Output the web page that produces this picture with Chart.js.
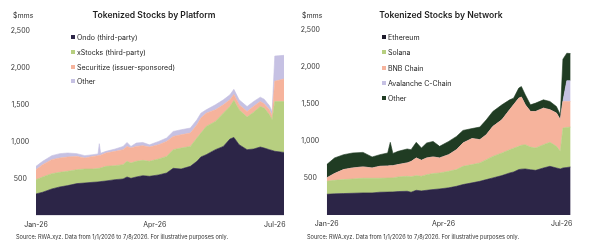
<!DOCTYPE html>
<html><head><meta charset="utf-8">
<script src="https://cdn.jsdelivr.net/npm/chart.js@4.4.1/dist/chart.umd.min.js"></script>
<style>
html,body{margin:0;padding:0;background:#fff;width:600px;height:251px;overflow:hidden;font-family:Inter,"Noto Sans",sans-serif;}
.panel{position:absolute;top:0;width:300px;height:251px;}
.panel canvas{position:absolute;left:0;top:0;}
.txt{position:absolute;white-space:nowrap;line-height:1;}
.unit{font-size:7px;color:#333;}
.title{font-size:8.6px;font-weight:600;color:#1e1e1e;text-align:center;width:200px;}
.leg{font-size:7px;color:#222;}
.sw{position:absolute;width:4px;height:4px;}
.source{font-size:5.6px;color:#333;}
</style></head>
<body>
<div class="panel" id="p1" style="left:0"><canvas id="c1" width="300" height="251"></canvas></div>
<div class="panel" id="p2" style="left:300px"><canvas id="c2" width="300" height="251"></canvas></div>
<script>
// ---- data (days since 1 Jan 2026) ----
const platformDays = [0,5,12,18,24,31,37,43,47,48,49,53,60,66,69,72,76,81,86,93,99,104,110,117,122,125,129,136,142,147,150,154,160,165,170,173,177,179,181,188];
const ondo          = [293,315,360,387,405,432,441,450,455,458,460,468,486,495,522,504,522,540,531,550,576,639,630,666,734,793,824,892,936,1036,1058,959,892,901,928,914,892,882,870,855];
const xStocks       = [193,207,207,198,194,189,189,180,182,182,183,198,189,194,212,207,212,207,203,216,225,253,284,270,316,324,383,382,451,441,502,473,441,499,549,541,472,415,674,689];
const securitize    = [135,167,190,194,194,180,149,171,173,175,175,181,194,203,202,203,202,199,194,193,203,179,180,181,179,203,180,158,113,90,80,68,76,80,68,58,68,54,276,306];
const platformOther = [45,45,54,59,54,37,32,23,25,158,25,22,32,44,54,22,46,44,30,45,46,68,68,68,68,67,45,68,67,68,70,67,68,65,58,63,54,58,340,320];

const networkDays  = [0,6,13,20,28,35,41,47,49,51,55,62,65,69,73,77,82,87,94,100,105,112,118,123,128,135,141,144,148,150,153,157,161,167,172,177,180,182,185,188];
const ethereum     = [280,285,289,293,298,298,307,309,311,311,316,320,307,333,325,333,343,352,366,387,410,433,454,477,500,531,567,580,612,618,621,610,602,634,656,634,621,634,640,648];
const solana       = [174,183,188,193,197,197,188,189,189,189,197,202,208,198,197,211,215,215,223,225,246,246,248,269,290,305,313,320,313,322,327,305,301,314,323,291,237,538,540,537];
const bnbChain     = [46,90,135,148,153,139,161,162,165,165,166,180,205,238,215,225,224,202,224,268,314,351,313,336,403,447,540,585,650,649,537,480,492,492,439,448,425,358,350,345];
const avalanche    = [0,0,0,0,0,0,0,0,0,0,0,0,0,0,0,0,0,0,0,0,0,0,0,0,0,0,0,0,0,0,0,0,0,0,0,0,0,5,280,280];
const networkOther = [179,211,201,202,196,148,157,176,314,165,179,188,160,210,166,201,210,156,179,179,170,135,170,201,202,202,132,90,135,142,135,90,113,112,112,89,68,565,370,365];

const xTickDays   = [0, 90, 181];
const xTickLabels = ['Jan-26', 'Apr-26', 'Jul-26'];
const yTickValues = [500, 1000, 1500, 2000, 2500];

const platformNames = ['Ondo (third-party)', 'xStocks (third-party)', 'Securitize (issuer-sponsored)', 'Other'];
const networkNames  = ['Ethereum', 'Solana', 'BNB Chain', 'Avalanche C-Chain', 'Other'];

const C_NAVY = '#2c2547', C_GREEN = '#b7cf80', C_SALMON = '#f6b39c', C_LAV = '#c6c1e3', C_DKGREEN = '#203c23';
const platformColors = [C_NAVY, C_GREEN, C_SALMON, C_LAV];
const networkColors  = [C_NAVY, C_GREEN, C_SALMON, C_LAV, C_DKGREEN];
const networkLegendColors = ['#1d1a2a', C_GREEN, C_SALMON, C_LAV, C_DKGREEN];

Chart.defaults.font.family = 'Inter, "Noto Sans", sans-serif';

function makeChart(id, days, series, names, colors, L) {
  const datasets = series.map((vals, i) => ({
    label: names[i],
    data: vals.map((v, k) => ({ x: days[k], y: v })),
    backgroundColor: colors[i],
    borderColor: colors[i],
    borderWidth: 0.6,
    pointRadius: 0,
    tension: 0,
    fill: i === 0 ? 'origin' : '-1'
  }));
  return new Chart(document.getElementById(id), {
    type: 'line',
    data: { datasets },
    options: {
      responsive: false, animation: false, devicePixelRatio: 1,
      layout: { padding: { top: L.top, right: L.right, left: 0, bottom: 0 } },
      plugins: { legend: { display: false }, tooltip: { enabled: false } },
      scales: {
        x: {
          type: 'linear', min: 0, max: 188,
          grid: { display: false, drawTicks: false }, border: { display: false },
          afterFit: s => { s.height = L.xh; },
          afterBuildTicks: s => { s.ticks = xTickDays.map(v => ({ value: v })); },
          ticks: { padding: 5, color: '#333', font: { size: 7 }, maxRotation: 0, autoSkip: false,
                   callback: v => xTickLabels[xTickDays.indexOf(v)] }
        },
        y: {
          stacked: true, min: 0, max: 2500,
          grid: { display: false, drawTicks: false }, border: { display: false },
          afterFit: s => { s.width = L.yw; },
          afterBuildTicks: s => { s.ticks = yTickValues.map(v => ({ value: v })); },
          ticks: { padding: L.ypad, crossAlign: 'center', color: '#333', font: { size: 7 },
                   callback: v => v.toLocaleString('en-US') }
        }
      }
    }
  });
}

makeChart('c1', platformDays, [ondo, xStocks, securitize, platformOther], platformNames, platformColors,
  { top: 31, right: 16, xh: 35.5, yw: 36, ypad: 6 });
makeChart('c2', networkDays, [ethereum, solana, bnbChain, avalanche, networkOther], networkNames, networkColors,
  { top: 29.5, right: 29.3, xh: 36, yw: 26.7, ypad: 6.7 });

function addText(panel, cls, text, left, cy, size, extra) {
  const d = document.createElement('div');
  d.className = 'txt ' + cls;
  d.textContent = text;
  d.style.left = left + 'px';
  d.style.top = (cy - size / 2) + 'px';
  if (extra) Object.assign(d.style, extra);
  document.getElementById(panel).appendChild(d);
  return d;
}
function addLegend(panel, names, colors, x, ys) {
  names.forEach((n, i) => {
    const s = document.createElement('div');
    s.className = 'sw';
    s.style.left = x + 'px'; s.style.top = (ys[i] - 2) + 'px'; s.style.background = colors[i];
    document.getElementById(panel).appendChild(s);
    addText(panel, 'leg', n, x + 6, ys[i], 7);
  });
}
// left panel
addText('p1', 'unit', '$mms', 13, 15, 7);
addText('p1', 'title', 'Tokenized Stocks by Platform', 54, 15, 8.6);
addLegend('p1', platformNames, platformColors, 71, [37, 52, 67, 81]);
addText('p1', 'source', 'Source: RWA.xyz. Data from 1/1/2026 to 7/8/2026. For illustrative purposes only.', 16, 238, 5.6);
// right panel
addText('p2', 'unit', '$mms', 2, 15, 7);
addText('p2', 'title', 'Tokenized Stocks by Network', 41, 15, 8.6);
addLegend('p2', networkNames, networkLegendColors, 82, [37, 52, 68, 83, 98]);
addText('p2', 'source', 'Source: RWA.xyz. Data from 1/1/2026 to 7/8/2026. For illustrative purposes only.', 7, 238, 5.6);
</script>
</body></html>
